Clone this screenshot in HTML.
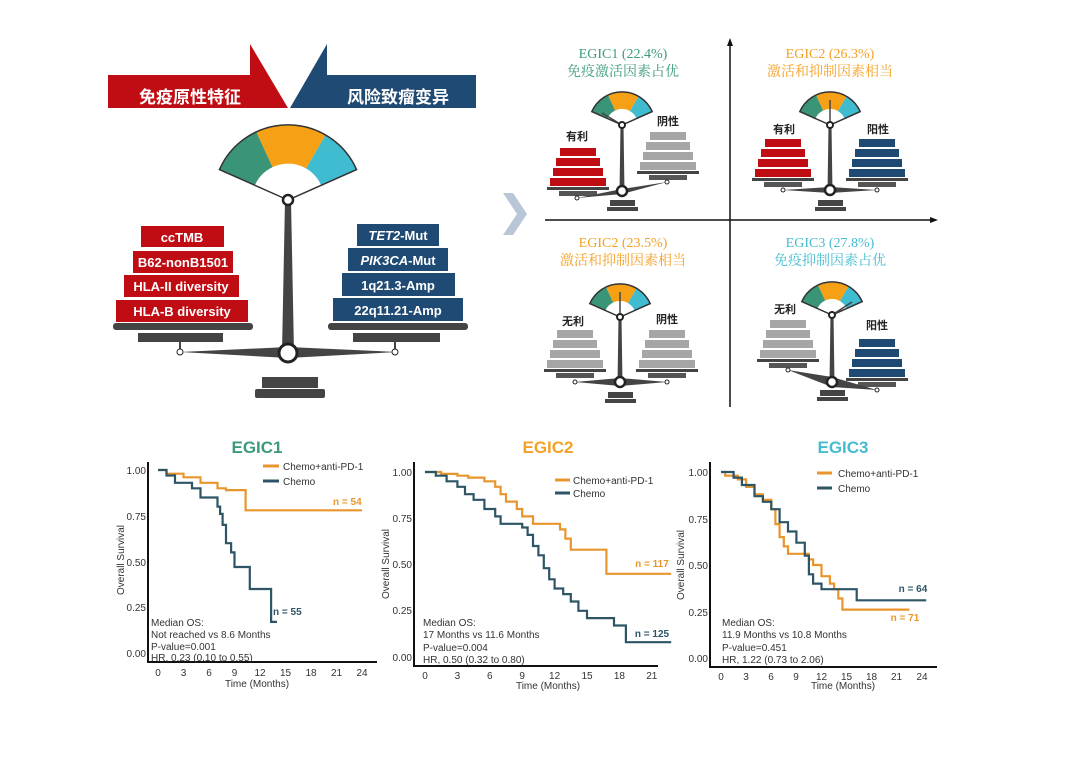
<!DOCTYPE html>
<html><head><meta charset="utf-8"><style>
body{margin:0;background:#fff}
svg text{font-family:"Liberation Sans","Noto Sans CJK SC",sans-serif}
.s{font-family:"Liberation Serif","Noto Serif CJK SC",serif!important;font-size:14px;text-anchor:middle}
.t{font-size:10px;fill:#333}
.w{fill:#fff;font-weight:bold;font-size:13px;text-anchor:middle}
</style></head><body>
<svg width="1080" height="753" viewBox="0 0 1080 753" xmlns="http://www.w3.org/2000/svg">
<defs>
<g id="gauge">
<path d="M-30.2,-13.4A33 33 0 0 1 -13.9,-29.9L-6.8,-14.5A16 16 0 0 0 -14.6,-6.5Z" fill="#3a9478"/>
<path d="M-13.9,-29.9A33 33 0 0 1 16.5,-28.6L8,-13.9A16 16 0 0 0 -6.8,-14.5Z" fill="#f5a015"/>
<path d="M16.5,-28.6A33 33 0 0 1 30.2,-13.4L14.6,-6.5A16 16 0 0 0 8,-13.9Z" fill="#3fbcd0"/>
<path d="M0,0L-30.2,-13.4A33 33 0 0 1 30.2,-13.4Z" fill="none" stroke="#333" stroke-width="1.5" vector-effect="non-scaling-stroke"/>
</g>
<g id="stk">
<rect x="-28" y="-8" width="56" height="8"/><rect x="-25" y="-18" width="50" height="8"/>
<rect x="-22" y="-28" width="44" height="8"/><rect x="-18" y="-38" width="36" height="8"/>
<rect x="-31" y="1" width="62" height="3" fill="#444"/><rect x="-19" y="5" width="38" height="5" fill="#555"/>
</g>
<g id="pole">
<path d="M-1.5,0L1.5,0L2.5,67L-2.5,67Z" fill="#444"/>
<rect x="-12" y="75" width="25" height="6" fill="#444"/><rect x="-15" y="82" width="31" height="4" fill="#444"/>
</g>
</defs>

<path d="M108,75H250V44L288,108H108Z" fill="#c00d14"/>
<path d="M290,108L327,44V75H476V108Z" fill="#1f4a73"/>
<text x="190" y="103" fill="#fff" font-size="17" font-weight="bold" text-anchor="middle">免疫原性特征</text>
<text x="398" y="103" fill="#fff" font-size="17" font-weight="bold" text-anchor="middle">风险致瘤变异</text>

<use href="#gauge" transform="translate(288,200) scale(2.27)"/>
<path d="M285,200L291,200L294,352L282,352Z" fill="#444"/>
<path d="M180,352L288,347L397,352L288,358Z" fill="#444"/>
<rect x="262" y="377" width="56" height="11" fill="#444"/><rect x="255" y="389" width="70" height="9" rx="2" fill="#444"/>
<circle cx="288" cy="200" r="5" fill="#fff" stroke="#222" stroke-width="2.5"/>
<circle cx="288" cy="353" r="9" fill="#fff" stroke="#222" stroke-width="3"/>
<line x1="180" y1="342" x2="180" y2="350" stroke="#444" stroke-width="2"/><circle cx="180" cy="352" r="3" fill="#fff" stroke="#222"/>
<line x1="395" y1="342" x2="395" y2="350" stroke="#444" stroke-width="2"/><circle cx="395" cy="352" r="3" fill="#fff" stroke="#222"/>
<rect x="113" y="323" width="140" height="7" rx="3" fill="#444"/><rect x="138" y="333" width="85" height="9" fill="#444"/>
<rect x="328" y="323" width="140" height="7" rx="3" fill="#444"/><rect x="353" y="333" width="87" height="9" fill="#444"/>
<g fill="#c00d14">
<rect x="141" y="226" width="83" height="21"/><rect x="133" y="251" width="100" height="22"/>
<rect x="124" y="275" width="115" height="22"/><rect x="116" y="300" width="132" height="22"/></g>
<g fill="#1f4a73">
<rect x="357" y="224" width="82" height="22"/><rect x="348" y="248" width="100" height="23"/>
<rect x="342" y="273" width="113" height="23"/><rect x="333" y="298" width="130" height="23"/></g>
<text class="w" x="182" y="242">ccTMB</text><text class="w" x="183" y="267">B62-nonB1501</text>
<text class="w" x="181" y="291">HLA-II diversity</text><text class="w" x="182" y="316">HLA-B diversity</text>
<text class="w" x="398" y="240"><tspan font-style="italic">TET2</tspan>-Mut</text>
<text class="w" x="398" y="265"><tspan font-style="italic">PIK3CA</tspan>-Mut</text>
<text class="w" x="398" y="290">1q21.3-Amp</text><text class="w" x="398" y="315">22q11.21-Amp</text>

<path d="M503,193L513,193L527,214L513,235L503,235L517,214Z" fill="#b9c6d6"/>

<line x1="730" y1="46" x2="730" y2="407" stroke="#111" stroke-width="1.5"/>
<path d="M727,46L730,38L733,46Z" fill="#111"/>
<line x1="545" y1="220" x2="932" y2="220" stroke="#111" stroke-width="1.5"/>
<path d="M930,217L938,220L930,223Z" fill="#111"/>
<text class="s" x="623" y="58" fill="#3d9a7e">EGIC1 (22.4%)</text><text class="s" x="623" y="76" fill="#3d9a7e">免疫激活因素占优</text>
<text class="s" x="830" y="58" fill="#f4a126">EGIC2 (26.3%)</text><text class="s" x="830" y="76" fill="#f4a126">激活和抑制因素相当</text>
<text class="s" x="623" y="247" fill="#f4a126">EGIC2 (23.5%)</text><text class="s" x="623" y="265" fill="#f4a126">激活和抑制因素相当</text>
<text class="s" x="830" y="247" fill="#46bcd0">EGIC3 (27.8%)</text><text class="s" x="830" y="265" fill="#46bcd0">免疫抑制因素占优</text>

<g font-size="11" font-weight="bold" fill="#222" text-anchor="middle">
<text x="577" y="140">有利</text><text x="668" y="125">阴性</text>
<text x="784" y="133">有利</text><text x="878" y="133">阳性</text>
<text x="573" y="325">无利</text><text x="667" y="323">阴性</text>
<text x="785" y="313">无利</text><text x="877" y="329">阳性</text></g>

<use href="#stk" transform="translate(578,186)" fill="#c00d14"/>
<use href="#stk" transform="translate(668,170)" fill="#a6a6a6"/>
<use href="#pole" transform="translate(622,125)"/>
<path d="M577,198L622,189L667,182L622,194Z" fill="#444"/>
<use href="#gauge" transform="translate(622,125)"/>
<line x1="622" y1="125" x2="602" y2="113" stroke="#444" stroke-width="1.5"/>
<circle cx="622" cy="125" r="3" fill="#fff" stroke="#222" stroke-width="2"/><circle cx="622" cy="191" r="5" fill="#fff" stroke="#222" stroke-width="2.5"/>
<circle cx="577" cy="198" r="2" fill="#fff" stroke="#222"/><circle cx="667" cy="182" r="2" fill="#fff" stroke="#222"/>
<use href="#stk" transform="translate(783,177)" fill="#c00d14"/>
<use href="#stk" transform="translate(877,177)" fill="#1f4a73"/>
<use href="#pole" transform="translate(830,125)"/>
<path d="M783,190L830,187L877,190L830,193Z" fill="#444"/>
<use href="#gauge" transform="translate(830,125)"/>
<line x1="830" y1="125" x2="830" y2="100" stroke="#444" stroke-width="1.5"/>
<circle cx="830" cy="125" r="3" fill="#fff" stroke="#222" stroke-width="2"/><circle cx="830" cy="190" r="5" fill="#fff" stroke="#222" stroke-width="2.5"/>
<circle cx="783" cy="190" r="2" fill="#fff" stroke="#222"/><circle cx="877" cy="190" r="2" fill="#fff" stroke="#222"/>
<use href="#stk" transform="translate(575,368)" fill="#a6a6a6"/>
<use href="#stk" transform="translate(667,368)" fill="#a6a6a6"/>
<use href="#pole" transform="translate(620,317)"/>
<path d="M575,382L620,378L667,382L620,386Z" fill="#444"/>
<use href="#gauge" transform="translate(620,317)"/>
<line x1="620" y1="317" x2="620" y2="292" stroke="#444" stroke-width="1.5"/>
<circle cx="620" cy="317" r="3" fill="#fff" stroke="#222" stroke-width="2"/><circle cx="620" cy="382" r="5" fill="#fff" stroke="#222" stroke-width="2.5"/>
<circle cx="575" cy="382" r="2" fill="#fff" stroke="#222"/><circle cx="667" cy="382" r="2" fill="#fff" stroke="#222"/>
<use href="#stk" transform="translate(788,358)" fill="#a6a6a6"/>
<use href="#stk" transform="translate(877,377)" fill="#1f4a73"/>
<use href="#pole" transform="translate(832,315)"/>
<path d="M788,370L832,377L877,390L832,387Z" fill="#444"/>
<use href="#gauge" transform="translate(832,315)"/>
<line x1="832" y1="315" x2="852" y2="302" stroke="#444" stroke-width="1.5"/>
<circle cx="832" cy="315" r="3" fill="#fff" stroke="#222" stroke-width="2"/><circle cx="832" cy="382" r="5" fill="#fff" stroke="#222" stroke-width="2.5"/>
<circle cx="788" cy="370" r="2" fill="#fff" stroke="#222"/><circle cx="877" cy="390" r="2" fill="#fff" stroke="#222"/>

<!-- KM plot 1 -->
<text x="257" y="453" font-size="17" font-weight="bold" fill="#3d9a7e" text-anchor="middle">EGIC1</text>
<path d="M148,462V662H377" fill="none" stroke="#111" stroke-width="2"/>
<g class="t" text-anchor="end"><text x="146" y="474">1.00</text><text x="146" y="520">0.75</text><text x="146" y="566">0.50</text><text x="146" y="611">0.25</text><text x="146" y="657">0.00</text></g>
<g class="t" text-anchor="middle"><text x="158" y="676">0</text><text x="183.5" y="676">3</text><text x="209" y="676">6</text><text x="234.5" y="676">9</text><text x="260" y="676">12</text><text x="285.5" y="676">15</text><text x="311" y="676">18</text><text x="336.5" y="676">21</text><text x="362" y="676">24</text>
<text x="257" y="687">Time (Months)</text></g>
<text class="t" transform="translate(124,560) rotate(-90)" text-anchor="middle">Overall Survival</text>
<path id="o1" fill="none" stroke="#e8962c" stroke-width="2.2"/><path id="n1" fill="none" stroke="#2d5566" stroke-width="2.2"/>
<line x1="263" y1="466" x2="279" y2="466" stroke="#e8962c" stroke-width="3"/><line x1="263" y1="481" x2="279" y2="481" stroke="#2d5566" stroke-width="3"/>
<text class="t" x="283" y="470">Chemo+anti-PD-1</text><text class="t" x="283" y="485">Chemo</text>
<text x="333" y="505" font-size="10" font-weight="bold" fill="#e8962c">n = 54</text>
<text x="273" y="615" font-size="10" font-weight="bold" fill="#2d5566">n = 55</text>
<g class="t"><text x="151" y="626">Median OS:</text><text x="151" y="638">Not reached vs 8.6 Months</text><text x="151" y="650">P-value=0.001</text><text x="151" y="661">HR, 0.23 (0.10 to 0.55)</text></g>

<!-- KM plot 2 -->
<text x="548" y="453" font-size="17" font-weight="bold" fill="#f4a126" text-anchor="middle">EGIC2</text>
<path d="M414,462V666H658" fill="none" stroke="#111" stroke-width="2"/>
<g class="t" text-anchor="end"><text x="412" y="476">1.00</text><text x="412" y="522">0.75</text><text x="412" y="568">0.50</text><text x="412" y="614">0.25</text><text x="412" y="661">0.00</text></g>
<g class="t" text-anchor="middle"><text x="425" y="679">0</text><text x="457.4" y="679">3</text><text x="489.8" y="679">6</text><text x="522.2" y="679">9</text><text x="554.6" y="679">12</text><text x="587" y="679">15</text><text x="619.4" y="679">18</text><text x="651.8" y="679">21</text>
<text x="548" y="689">Time (Months)</text></g>
<text class="t" transform="translate(389,564) rotate(-90)" text-anchor="middle">Overall Survival</text>
<path id="o2" fill="none" stroke="#e8962c" stroke-width="2.2"/><path id="n2" fill="none" stroke="#2d5566" stroke-width="2.2"/>
<line x1="555" y1="480" x2="570" y2="480" stroke="#e8962c" stroke-width="3"/><line x1="555" y1="493" x2="570" y2="493" stroke="#2d5566" stroke-width="3"/>
<text class="t" x="573" y="484">Chemo+anti-PD-1</text><text class="t" x="573" y="497">Chemo</text>
<text x="652" y="567" font-size="10" font-weight="bold" fill="#e8962c" text-anchor="middle">n = 117</text>
<text x="652" y="637" font-size="10" font-weight="bold" fill="#2d5566" text-anchor="middle">n = 125</text>
<g class="t"><text x="423" y="626">Median OS:</text><text x="423" y="638">17 Months vs 11.6 Months</text><text x="423" y="651">P-value=0.004</text><text x="423" y="663">HR, 0.50 (0.32 to 0.80)</text></g>

<!-- KM plot 3 -->
<text x="843" y="453" font-size="17" font-weight="bold" fill="#46bcd0" text-anchor="middle">EGIC3</text>
<path d="M710,462V667H937" fill="none" stroke="#111" stroke-width="2"/>
<g class="t" text-anchor="end"><text x="708" y="476">1.00</text><text x="708" y="523">0.75</text><text x="708" y="569">0.50</text><text x="708" y="616">0.25</text><text x="708" y="662">0.00</text></g>
<g class="t" text-anchor="middle"><text x="721" y="680">0</text><text x="746" y="680">3</text><text x="771" y="680">6</text><text x="796" y="680">9</text><text x="821.5" y="680">12</text><text x="846.5" y="680">15</text><text x="871.5" y="680">18</text><text x="896.5" y="680">21</text><text x="922" y="680">24</text>
<text x="843" y="689">Time (Months)</text></g>
<text class="t" transform="translate(684,565) rotate(-90)" text-anchor="middle">Overall Survival</text>
<path id="o3" fill="none" stroke="#e8962c" stroke-width="2.2"/><path id="n3" fill="none" stroke="#2d5566" stroke-width="2.2"/>
<line x1="817" y1="473" x2="832" y2="473" stroke="#e8962c" stroke-width="3"/><line x1="817" y1="488" x2="832" y2="488" stroke="#2d5566" stroke-width="3"/>
<text class="t" x="838" y="477">Chemo+anti-PD-1</text><text class="t" x="838" y="492">Chemo</text>
<text x="913" y="592" font-size="10" font-weight="bold" fill="#2d5566" text-anchor="middle">n = 64</text>
<text x="905" y="621" font-size="10" font-weight="bold" fill="#e8962c" text-anchor="middle">n = 71</text>
<g class="t"><text x="722" y="626">Median OS:</text><text x="722" y="638">11.9 Months vs 10.8 Months</text><text x="722" y="651">P-value=0.451</text><text x="722" y="663">HR, 1.22 (0.73 to 2.06)</text></g>
</svg>
<script>
function st(id,x0,dx,y0,dy,pts,end){var p="M"+x0+","+(y0-dy);for(var i=0;i<pts.length;i++){var x=x0+dx*pts[i][0],y=y0-dy*pts[i][1];p+="H"+x.toFixed(1)+"V"+y.toFixed(1);}p+="H"+(x0+dx*end).toFixed(1);document.getElementById(id).setAttribute("d",p);}
st("o1",158,8.5,653,183,[[1,.98],[3,.96],[5,.93],[7,.9],[8,.89],[10.3,.78]],24);
st("n1",158,8.5,653,183,[[1,.97],[2,.93],[4,.9],[5,.85],[7,.8],[7.3,.76],[7.6,.7],[8,.6],[8.6,.55],[9,.47],[10.8,.35],[13.3,.17]],14);
st("o2",425,10.8,657,185,[[1.5,.99],[3,.98],[4,.97],[5.5,.95],[6.5,.92],[7,.88],[7.5,.84],[8.5,.8],[9,.76],[10,.72],[12.5,.69],[13,.64],[13.5,.58],[16.8,.45]],22.8);
st("n2",425,10.8,657,185,[[1,.98],[2,.95],[3,.92],[3.7,.88],[4.5,.85],[5.5,.8],[6.5,.76],[7,.72],[9,.7],[9.5,.66],[10,.6],[10.5,.55],[11,.48],[11.5,.42],[12,.37],[12.8,.34],[13.5,.3],[14.2,.25],[15,.21],[17.5,.17],[18.6,.08]],22.8);
st("o3",721,8.375,658,186,[[.5,.98],[2,.96],[3,.92],[4,.88],[5,.85],[6,.8],[6.5,.72],[7,.65],[7.5,.6],[8,.56],[10.5,.53],[11,.5],[12,.44],[13,.4],[13.5,.37],[14,.32],[14.5,.26]],22.5);
st("n3",721,8.375,658,186,[[1.5,.97],[2.5,.93],[4,.87],[5,.84],[6,.8],[7,.73],[8,.68],[9,.62],[10,.55],[10.5,.45],[11,.4],[12,.37],[16.2,.31]],24.5);
</script>
</body></html>
